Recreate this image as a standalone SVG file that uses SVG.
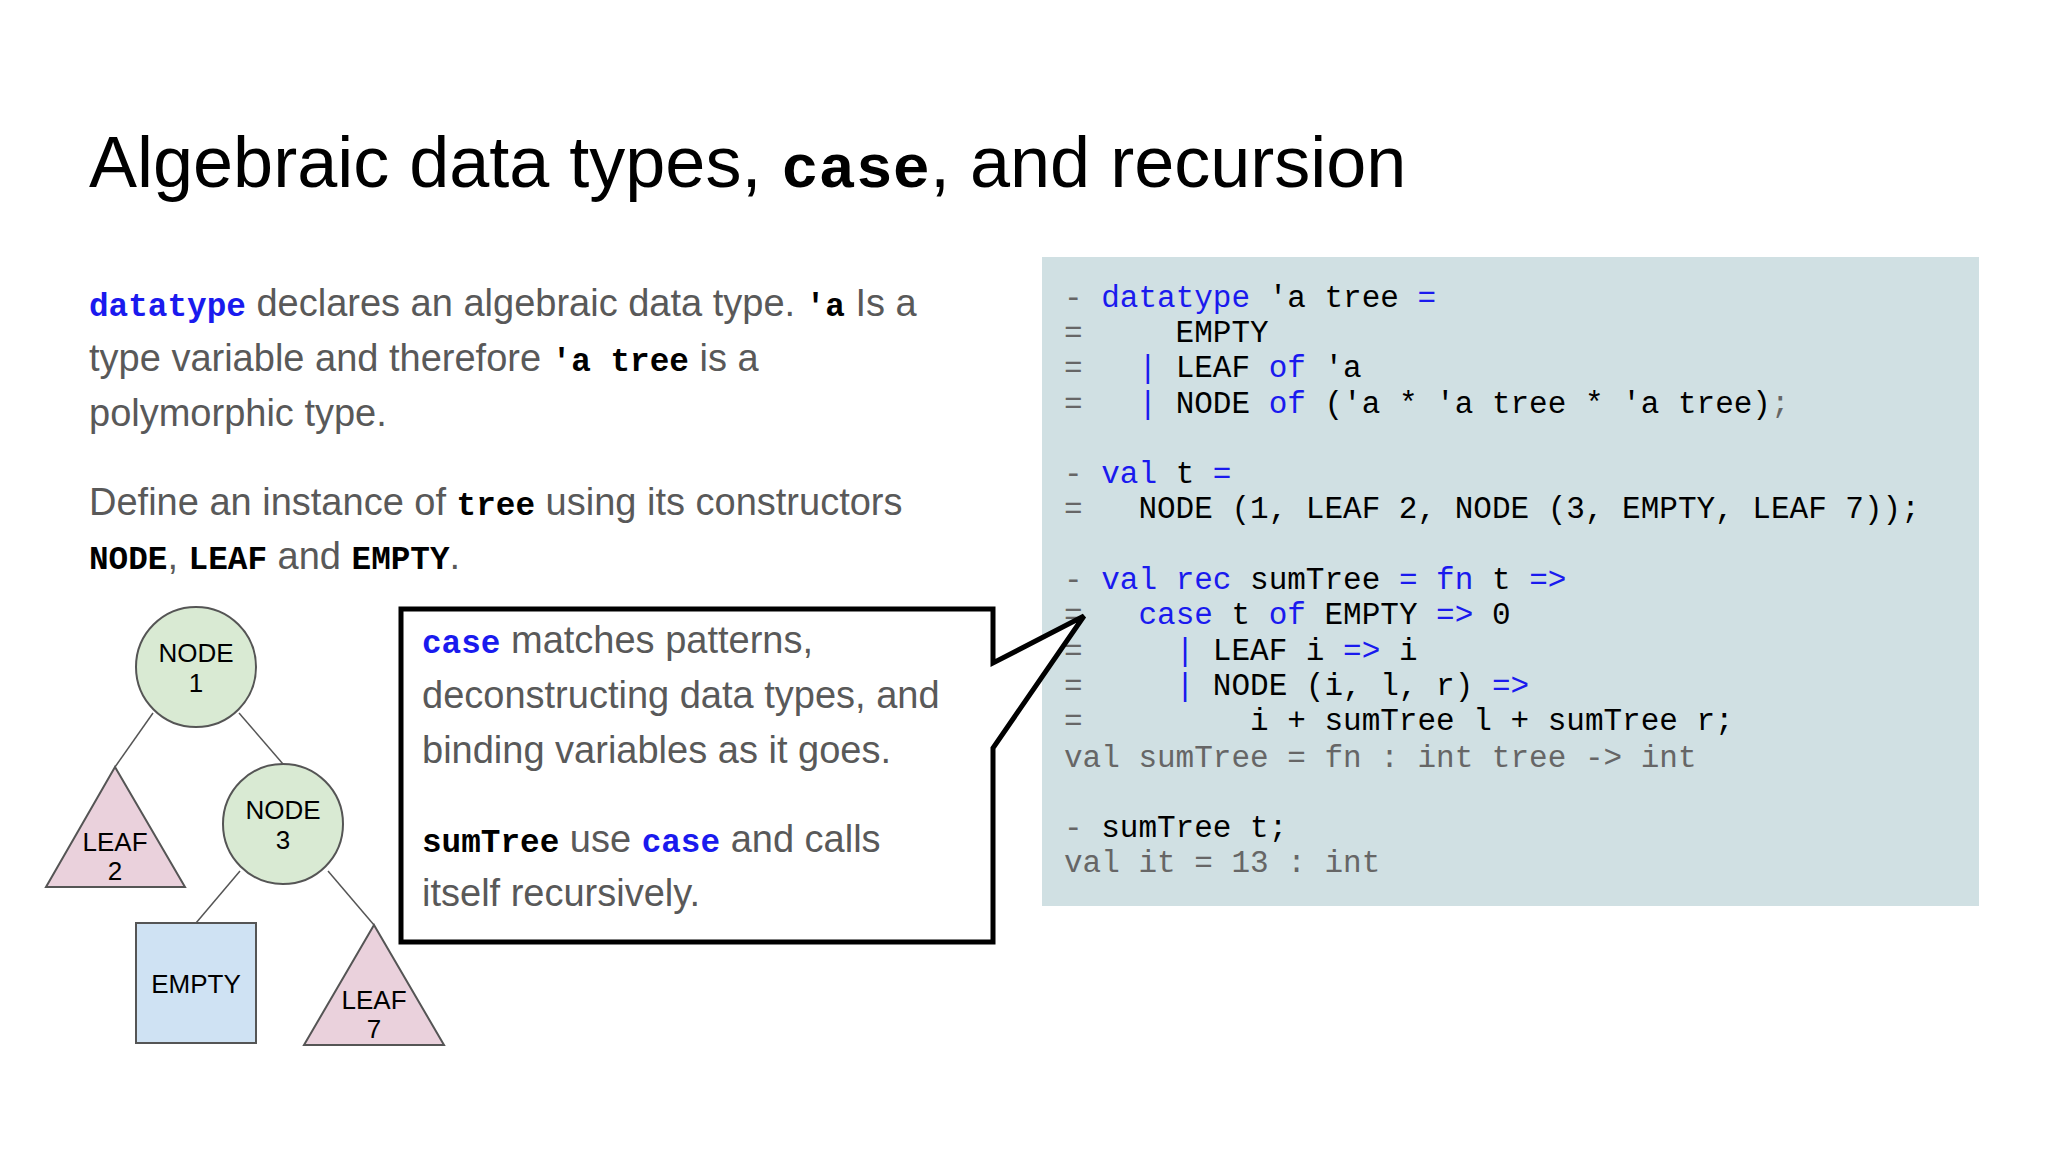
<svg xmlns="http://www.w3.org/2000/svg" width="2048" height="1152" viewBox="0 0 2048 1152">
<style>
.s{font-family:"Liberation Sans",Arial,sans-serif}
.m{font-family:"Liberation Mono","DejaVu Sans Mono",monospace;font-weight:bold;font-size:0.86em}
.body{font-size:38px;fill:#595959}
.k{fill:#1a1aee}
.blk{fill:#000}
.code{font-family:"Liberation Mono","DejaVu Sans Mono",monospace;font-size:31px;fill:#000;white-space:pre}
.out{fill:#666}
.lbl{font-family:"Liberation Sans",Arial,sans-serif;font-size:26px;fill:#000;text-anchor:middle}
.edge{stroke:#555;stroke-width:1.5;fill:none}
</style>
<rect width="2048" height="1152" fill="#fff"/>
<text class="s" x="89" y="187" font-size="72" fill="#000">Algebraic data types, <tspan class="m" font-size="0.9em">case</tspan>, and recursion</text>
<g id="intro">
<text class="s body" x="89" y="316"><tspan class="m k">datatype</tspan> declares an algebraic data type. <tspan class="m blk">'a</tspan> Is a</text>
<text class="s body" x="89" y="371">type variable and therefore <tspan class="m blk">'a tree</tspan> is a</text>
<text class="s body" x="89" y="426">polymorphic type.</text>
<text class="s body" x="89" y="515">Define an instance of <tspan class="m blk">tree</tspan> using its constructors</text>
<text class="s body" x="89" y="569"><tspan class="m blk">NODE</tspan>, <tspan class="m blk">LEAF</tspan> and <tspan class="m blk">EMPTY</tspan>.</text>
</g>
<g id="code">
<rect x="1042" y="257" width="937" height="649" fill="#d0e0e3"/>
<text class="code" x="1064" y="307" xml:space="preserve"><tspan class="out">-</tspan> <tspan class="k">datatype</tspan> 'a tree <tspan class="k">=</tspan></text>
<text class="code" x="1064" y="342" xml:space="preserve"><tspan class="out">=</tspan>     EMPTY</text>
<text class="code" x="1064" y="377" xml:space="preserve"><tspan class="out">=</tspan>   <tspan class="k">|</tspan> LEAF <tspan class="k">of</tspan> 'a</text>
<text class="code" x="1064" y="413" xml:space="preserve"><tspan class="out">=</tspan>   <tspan class="k">|</tspan> NODE <tspan class="k">of</tspan> ('a * 'a tree * 'a tree)<tspan class="out">;</tspan></text>
<text class="code" x="1064" y="483" xml:space="preserve"><tspan class="out">-</tspan> <tspan class="k">val</tspan> t <tspan class="k">=</tspan></text>
<text class="code" x="1064" y="518" xml:space="preserve"><tspan class="out">=</tspan>   NODE (1, LEAF 2, NODE (3, EMPTY, LEAF 7));</text>
<text class="code" x="1064" y="589" xml:space="preserve"><tspan class="out">-</tspan> <tspan class="k">val rec</tspan> sumTree <tspan class="k">=</tspan> <tspan class="k">fn</tspan> t <tspan class="k">=&gt;</tspan></text>
<text class="code" x="1064" y="624" xml:space="preserve"><tspan class="out">=</tspan>   <tspan class="k">case</tspan> t <tspan class="k">of</tspan> EMPTY <tspan class="k">=&gt;</tspan> 0</text>
<text class="code" x="1064" y="660" xml:space="preserve"><tspan class="out">=</tspan>     <tspan class="k">|</tspan> LEAF i <tspan class="k">=&gt;</tspan> i</text>
<text class="code" x="1064" y="695" xml:space="preserve"><tspan class="out">=</tspan>     <tspan class="k">|</tspan> NODE (i, l, r) <tspan class="k">=&gt;</tspan></text>
<text class="code" x="1064" y="730" xml:space="preserve"><tspan class="out">=</tspan>         i + sumTree l + sumTree r;</text>
<text class="code out" x="1064" y="767" xml:space="preserve">val sumTree = fn : int tree -&gt; int</text>
<text class="code" x="1064" y="837" xml:space="preserve"><tspan class="out">-</tspan> sumTree t;</text>
<text class="code out" x="1064" y="872" xml:space="preserve">val it = 13 : int</text>
</g>
<g id="callout">
<path d="M401,609 H993 V663 L1084,616 L993,748 V942 H401 Z" fill="#fff" stroke="#000" stroke-width="5" stroke-linejoin="miter"/>
<text class="s body" x="422" y="653"><tspan class="m k">case</tspan> matches patterns,</text>
<text class="s body" x="422" y="708">deconstructing data types, and</text>
<text class="s body" x="422" y="763">binding variables as it goes.</text>
<text class="s body" x="422" y="852"><tspan class="m blk">sumTree</tspan> use <tspan class="m k">case</tspan> and calls</text>
<text class="s body" x="422" y="906">itself recursively.</text>
</g>
<g id="connectors">
<line class="edge" x1="153" y1="713" x2="115" y2="767"/>
<line class="edge" x1="239" y1="713" x2="283" y2="764"/>
<line class="edge" x1="240" y1="871" x2="196" y2="923"/>
<line class="edge" x1="328" y1="871" x2="374" y2="925"/>
</g>
<g id="node1"><circle cx="196" cy="667" r="60" fill="#d9ead3" stroke="#555" stroke-width="2"/>
<text class="lbl" x="196" y="662">NODE</text><text class="lbl" x="196" y="692">1</text></g>
<g id="node3"><circle cx="283" cy="824" r="60" fill="#d9ead3" stroke="#555" stroke-width="2"/>
<text class="lbl" x="283" y="819">NODE</text><text class="lbl" x="283" y="849">3</text></g>
<g id="leaf2"><polygon points="115,767 46,887 185,887" fill="#ead1dc" stroke="#555" stroke-width="2"/>
<text class="lbl" x="115" y="851">LEAF</text><text class="lbl" x="115" y="880">2</text></g>
<g id="empty"><rect x="136" y="923" width="120" height="120" fill="#cfe2f3" stroke="#555" stroke-width="2"/>
<text class="lbl" x="196" y="993">EMPTY</text></g>
<g id="leaf7"><polygon points="374,925 304,1045 444,1045" fill="#ead1dc" stroke="#555" stroke-width="2"/>
<text class="lbl" x="374" y="1009">LEAF</text><text class="lbl" x="374" y="1038">7</text></g>
</svg>
